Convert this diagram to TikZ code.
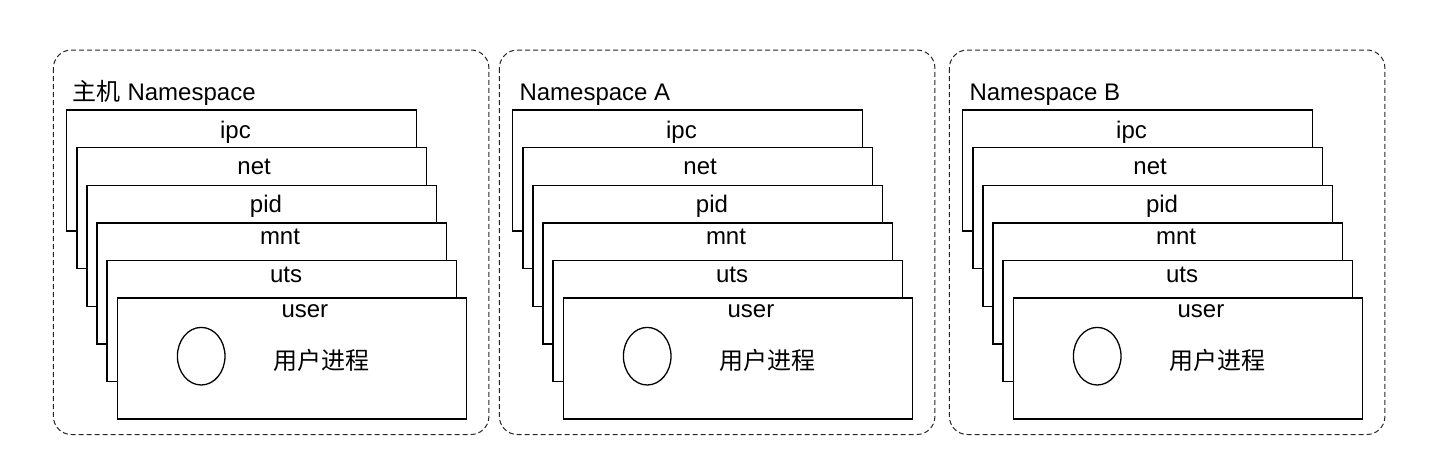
\documentclass[tikz,border=0pt]{standalone}
\usepackage{fontspec}
\setmainfont{Liberation Sans}
\newfontfamily\cjkfont{Noto Sans CJK SC}
\usetikzlibrary{shapes.geometric}
\begin{document}
\begin{tikzpicture}[x=1pt,y=-1pt,
  nsbox/.style={draw=black!85, line width=1pt, dash pattern=on 5pt off 3pt, rounded corners=18pt},
  layerbox/.style={draw=black, fill=white, line width=1.4pt, minimum width=349.5pt, minimum height=121pt, anchor=north west, inner sep=0pt, outer sep=0pt, rectangle},
  lbl/.style={anchor=base, font=\fontsize{24}{28}\selectfont, inner sep=0pt},
  ttl/.style={anchor=base west, font=\fontsize{24}{28}\selectfont, inner sep=0pt},
  proc/.style={draw=black, line width=1.3pt, ellipse, minimum width=47.6pt, minimum height=57.6pt, inner sep=0pt},
  proctext/.style={anchor=center, font=\fontsize{24}{28}\selectfont\cjkfont, inner sep=0pt}]
\useasboundingbox (0,0) rectangle (1447,455);
\fill[white] (0,0) rectangle (1447,455);
\foreach \dx/\p in {0/h, 446/a, 896/b} {
  \draw[nsbox] ({53.4+\dx},50) rectangle ({488.9+\dx},434.5);
  \foreach \k/\name/\lx/\by in {0/ipc/168.8/28, 1/net/177.3/26.7, 2/pid/179.1/27.3, 3/mnt/183/22, 4/uts/179/21.7, 5/user/187.7/19} {
    \node[layerbox] (\p-\name) at ({66.7+\dx+10.1*\k},{110+37.6*\k}) {};
    \node[lbl] (\p-\name-t) at ({66.7+\dx+10.1*\k+\lx},{110+37.6*\k+\by}) {\name};
  }
  \node[proc] (\p-circ) at ({201.2+\dx},356.2) {};
  \node[proctext] (\p-proc) at ({321.7+\dx},360) {用户进程};
}
\node[ttl] (h-title) at (72.7,100.7) {{\cjkfont 主机} Namespace};
\node[ttl] (a-title) at (519.3,100.7) {Namespace A};
\node[ttl] (b-title) at (969.3,100.7) {Namespace B};
\end{tikzpicture}
\end{document}
